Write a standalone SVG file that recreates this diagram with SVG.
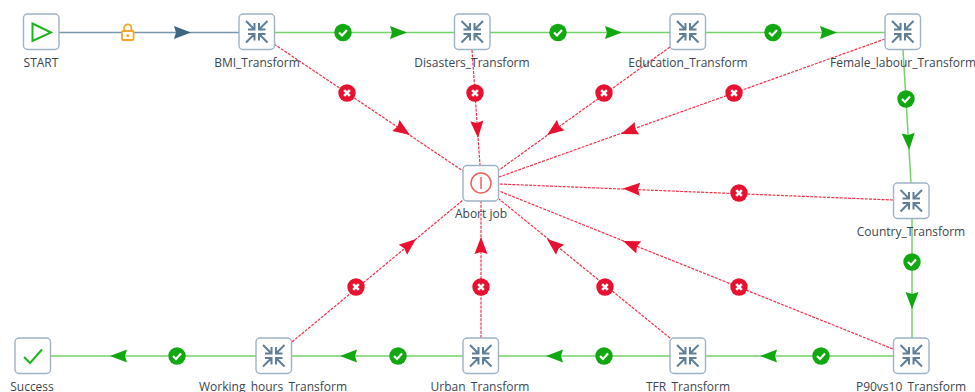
<svg xmlns="http://www.w3.org/2000/svg" width="975" height="392" viewBox="0 0 975 392">
<style>
.box{fill:#fff;stroke:#9fb3c6;stroke-width:1.4}
.lbl{font-family:"Open Sans","Noto Sans","DejaVu Sans",sans-serif;font-size:12px;fill:#3c4650;text-anchor:middle}
.g{stroke:#74d46a;stroke-width:1.5;fill:none}
.b{stroke:#7a96ae;stroke-width:1.4;fill:none}
.r{stroke:#f4304a;stroke-width:1.2;stroke-dasharray:3 1.2;fill:none}
.ic{stroke:#5f7f98;stroke-width:2;fill:none}
</style>
<defs>
<path id="ah" d="M0 0L-17 -6.500L-15 0L-17 6.500Z"/>
<g id="ok"><circle r="8.700" fill="#11a811"/><path d="M-4 0L-1 3L4 -2.500" fill="none" stroke="#fff" stroke-width="2.200"/></g>
<g id="ko"><circle r="8.700" fill="#e8112f"/><path d="M-2.800 -2.800L2.800 2.800M-2.800 2.800L2.800 -2.800" fill="none" stroke="#fff" stroke-width="2.600"/></g>
<g id="tf"><rect class="box" x="0" y="0" width="35.500" height="35.500" rx="4"/>
<path class="ic" d="M7 7L15.500 15.500M15.500 9V15.500H9M28.500 7L20 15.500M20 9V15.500H26.500M7 28.500L15.500 20M9 20H15.500V26.500M28.500 28.500L20 20M26.500 20H20V26.500"/></g>
</defs>
<g id="connectors">
<path class="b" d="M59 32.500H239"/>
<path class="g" d="M274.500 32.500H454M490 32.500H670M706 32.500H885M903 50L911 183M912 218V338M893 356H706M670 356H499M463 356H292M256 356H51"/>
<path class="r" d="M274 44L463 171M472 50L480 165M670 47L499 170M885 39L499 177M893 200L499 184M893 349L499 191M670 338L499 199M481 338V201M292 342L463 200"/>
<use href="#ah" fill="#3f6583" transform="translate(191 32.500)"/>
<g fill="#11a811">
<use href="#ah" transform="translate(407 32.500)"/><use href="#ah" transform="translate(622 32.500)"/><use href="#ah" transform="translate(837 32.500)"/>
<use href="#ah" transform="translate(909.200 150) rotate(86.600)"/>
<use href="#ah" transform="translate(912 309) rotate(90)"/>
<use href="#ah" transform="translate(760 356) rotate(180)"/><use href="#ah" transform="translate(546 356) rotate(180)"/><use href="#ah" transform="translate(340 356) rotate(180)"/><use href="#ah" transform="translate(110 356) rotate(180)"/>
</g>
<g fill="#e8112f">
<use href="#ah" transform="translate(410 135) rotate(34)"/>
<use href="#ah" transform="translate(478 138) rotate(86)"/>
<use href="#ah" transform="translate(547 135) rotate(144.300)"/>
<use href="#ah" transform="translate(621 134) rotate(160)"/>
<use href="#ah" transform="translate(623 188.500) rotate(182.300)"/>
<use href="#ah" transform="translate(623 241) rotate(202)"/>
<use href="#ah" transform="translate(547 239) rotate(219.500)"/>
<use href="#ah" transform="translate(481 237) rotate(270)"/>
<use href="#ah" transform="translate(416 239) rotate(-39.700)"/>
</g>
<use href="#ok" x="343" y="32.500"/><use href="#ok" x="558" y="32.500"/><use href="#ok" x="773" y="32.500"/>
<use href="#ok" x="906" y="99"/><use href="#ok" x="912" y="262"/>
<use href="#ok" x="821" y="356"/><use href="#ok" x="604" y="356"/><use href="#ok" x="398" y="356"/><use href="#ok" x="177" y="356"/>
<use href="#ko" x="347" y="93"/><use href="#ko" x="475" y="93"/><use href="#ko" x="604" y="93"/><use href="#ko" x="734" y="93"/>
<use href="#ko" x="739" y="193"/><use href="#ko" x="739" y="287"/><use href="#ko" x="605" y="287"/><use href="#ko" x="481" y="287"/><use href="#ko" x="356" y="287"/>
<g id="lock" fill="none" stroke="#f5a623" stroke-width="1.800"><rect x="122" y="31" width="11.500" height="9" rx="1" fill="#fff"/><path d="M124.200 31V28A3.600 3.600 0 0 1 131.400 28V31"/><circle cx="127.800" cy="35.500" r="0.600"/></g>
</g>
<g id="start"><rect class="box" x="23.500" y="14" width="35.500" height="35.500" rx="4"/><path d="M32.500 23.500L51 32.500L32.500 41Z" fill="none" stroke="#1db41d" stroke-width="2"/><text class="lbl" x="41" y="67">START</text></g>
<g id="bmi"><use href="#tf" x="239" y="14"/><text class="lbl" x="257" y="67">BMI_Transform</text></g>
<g id="disasters"><use href="#tf" x="454.500" y="14"/><text class="lbl" x="472" y="67">Disasters_Transform</text></g>
<g id="education"><use href="#tf" x="670" y="14"/><text class="lbl" x="688" y="67">Education_Transform</text></g>
<g id="female"><use href="#tf" x="885" y="14"/><text class="lbl" x="903" y="67">Female_labour_Transform</text></g>
<g id="country"><use href="#tf" x="893.500" y="183"/><text class="lbl" x="911" y="236">Country_Transform</text></g>
<g id="p90"><use href="#tf" x="893.500" y="338"/><text class="lbl" x="911" y="391">P90vs10_Transform</text></g>
<g id="tfr"><use href="#tf" x="670" y="338"/><text class="lbl" x="688" y="391">TFR_Transform</text></g>
<g id="urban"><use href="#tf" x="463" y="338"/><text class="lbl" x="480" y="391">Urban_Transform</text></g>
<g id="working"><use href="#tf" x="256" y="338"/><text class="lbl" x="273" y="391">Working_hours_Transform</text></g>
<g id="success"><rect class="box" x="15" y="338" width="35.500" height="35.500" rx="4"/><path d="M24 357L30 363L42 349.500" fill="none" stroke="#1db41d" stroke-width="2"/><text class="lbl" x="32" y="391">Success</text></g>
<g id="abort"><rect class="box" x="463" y="165.500" width="35.500" height="35.500" rx="4"/><circle cx="481" cy="183" r="10" fill="none" stroke="#f0605a" stroke-width="1.500"/><path d="M481 177V189" stroke="#f0605a" stroke-width="1.500"/><text class="lbl" x="481" y="218">Abort job</text></g>
</svg>
